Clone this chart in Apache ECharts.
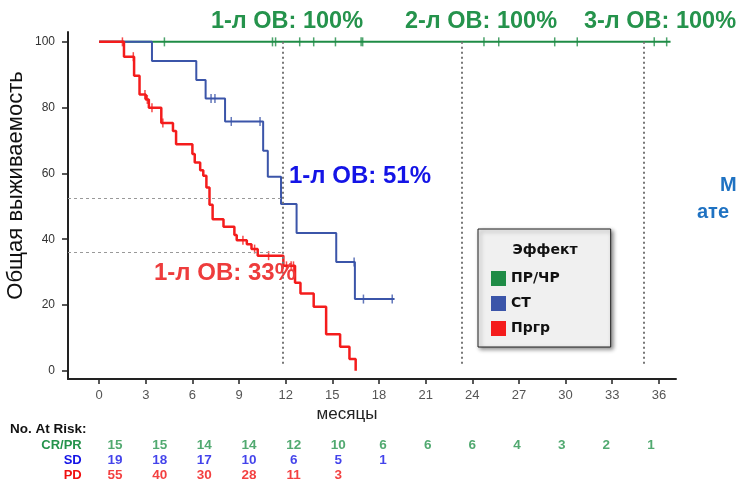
<!DOCTYPE html>
<html><head><meta charset="utf-8">
<script src="https://cdn.jsdelivr.net/npm/echarts@6/dist/echarts.min.js"></script>
<style>html,body{margin:0;padding:0;background:#fff}#c{width:741px;height:483px}</style>
</head><body><div id="c"></div>
<script>
// ---- data ----
const xTicks = [0,3,6,9,12,15,18,21,24,27,30,33,36];
const yTicks = [0,20,40,60,80,100];

const greenTimes = [0, 36.75];
const greenSurv  = [100, 100];
const greenCens  = [4.2, 11.15, 11.35, 12.9, 13.8, 15.2, 16.85, 16.95, 24.75, 25.7, 29.3, 30.75, 35.7, 36.5];

const blueTimes = [0, 3.4, 6.25, 6.85, 8.1, 10.55, 10.85, 11.7, 12.7, 15.25, 16.45, 19.0];
const blueSurv  = [100, 94.2, 88.4, 82.8, 75.8, 66.9, 59, 50.7, 41.9, 33.1, 21.8, 21.8];
const blueCens  = [7.2, 7.45, 8.5, 10.35, 16.4, 17.0, 18.85];

const redTimes = [0, 1.6, 2.25, 2.6, 3.0, 3.2, 4.0, 4.75, 4.95, 6.0, 6.15, 6.5, 6.7, 6.9, 7.1, 7.3, 8.0, 8.7, 8.85, 9.5, 9.8, 10.2, 11.85, 12.6, 12.95, 13.8, 14.6, 15.5, 16.1, 16.5];
const redSurv  = [100, 95.5, 89.7, 84, 82.5, 80, 75.3, 72.9, 68.9, 65.9, 63.3, 61, 59.3, 55.7, 50.5, 46.1, 43.8, 41.3, 39.7, 38.5, 37, 35, 31.9, 26.8, 23.5, 19.5, 11.1, 7.3, 3.6, 0];
const redCens  = [1.5, 2.2, 2.95, 3.1, 3.4, 4.1, 9.25, 10.0, 10.9, 12.05, 12.35, 12.5];

const refMonths = [11.8, 23.3, 35.0];
const refLevels = [52.6, 35.9];

const riskCols = ['0','3','6','9','12','15','18','21','24','27','30','33','36'];
const riskRows = ['CR/PR','SD','PD'];
const riskCRPR = [15,15,14,14,12,10,6,6,6,4,3,2,1];
const riskSD   = [19,18,17,10,6,5,1];
const riskPD   = [55,40,30,28,11,3];

const names = ['ПР/ЧР','СТ','Пргр'];
// ---- styles ----
const GREEN='#1f8c46', BLUE='#3b55a9', RED='#f41c1c';
const GREEN_T='#25934c', BLUE_T='#1414e6', RED_T='#ee3c3c';
const SD_T='#1414e6', PD_T='#f01010';

function pairs(t,s){return t.map((v,i)=>[v,s[i]]);}
function survAt(t,s,x){let v=s[0];for(let i=0;i<t.length;i++){if(t[i]<=x)v=s[i];}return v;}
function cens(t,s,c){return c.map(x=>[x,survAt(t,s,x)]);}
function riskData(arr,row){return arr.map((v,i)=>[riskCols[i],row,v]);}

const chart = echarts.init(document.getElementById('c'));
const FONT = 'Liberation Sans, Arial, sans-serif';
const NARROW = 'Liberation Sans Narrow, Arial Narrow, '+FONT;

chart.setOption({
  backgroundColor:'#fff',
  animation:false,
  grid:[
    {left:68,right:65,top:32,bottom:104,outerBoundsMode:'none',containLabel:false},
    {left:92.7,right:67.7,top:438,bottom:0,outerBoundsMode:'none',containLabel:false}
  ],
  xAxis:[
    {type:'value',gridIndex:0,min:-2,max:37.1,
     axisLine:{onZero:false,lineStyle:{color:'#222',width:2}},
     axisTick:{show:true,customValues:xTicks,length:5,lineStyle:{color:'#222',width:1.5}},
     axisLabel:{customValues:xTicks,color:'#555',fontSize:13,margin:10,fontFamily:FONT},
     splitLine:{show:false},
     name:'месяцы',nameLocation:'middle',nameGap:27,nameMoveOverlap:false,
     nameTextStyle:{fontSize:17,color:'#222',fontFamily:FONT,padding:[0,50,0,0]}},
    {type:'category',gridIndex:1,data:riskCols,show:false}
  ],
  yAxis:[
    {type:'value',gridIndex:0,min:-2.5,max:103,
     axisLine:{show:true,onZero:false,lineStyle:{color:'#222',width:2}},
     axisTick:{show:true,customValues:yTicks,length:6,lineStyle:{color:'#222',width:1.5}},
     axisLabel:{customValues:yTicks,color:'#333',fontSize:12,margin:13,fontFamily:FONT},
     splitLine:{show:false},
     name:'Общая выживаемость',nameLocation:'middle',nameGap:41,nameRotate:90,nameMoveOverlap:false,
     nameTextStyle:{fontSize:22,color:'#111',fontFamily:FONT,padding:[0,0,0,40]}},
    {type:'category',gridIndex:1,data:riskRows,inverse:true,
     axisLine:{show:false},axisTick:{show:false},
     axisLabel:{interval:0,margin:11,fontWeight:'bold',fontSize:13,fontFamily:NARROW,
       formatter:v=>'{'+(v==='CR/PR'?'g':v==='SD'?'b':'r')+'|'+v+'}',
       rich:{g:{color:GREEN_T,fontWeight:'bold',fontSize:13,fontFamily:NARROW},
             b:{color:SD_T,fontWeight:'bold',fontSize:13,fontFamily:NARROW},
             r:{color:PD_T,fontWeight:'bold',fontSize:13,fontFamily:NARROW}}}}
  ],
  legend:{
    left:478,top:229,orient:'vertical',selectedMode:false,
    itemWidth:15,itemHeight:15,itemGap:10,
    padding:[42,51,11,13],
    backgroundColor:'#f0f0f0',borderColor:'#222',borderWidth:1,
    shadowColor:'rgba(0,0,0,0.45)',shadowBlur:4,shadowOffsetX:2,shadowOffsetY:2,
    textStyle:{fontWeight:'bold',fontSize:14,color:'#111',fontFamily:'DejaVu Sans, sans-serif'},
    data:[
      {name:names[0],icon:'rect',itemStyle:{color:GREEN}},
      {name:names[1],icon:'rect',itemStyle:{color:BLUE}},
      {name:names[2],icon:'rect',itemStyle:{color:RED}}
    ]
  },
  graphic:[
    {type:'text',x:545,y:250,z:100,style:{text:'Эффект',align:'center',verticalAlign:'middle',font:'bold 14px DejaVu Sans, sans-serif',fill:'#111'}},
    {type:'text',x:287,y:22,z:100,style:{text:'1-л ОВ: 100%',align:'center',verticalAlign:'middle',font:'bold 23.5px '+FONT,fill:GREEN_T}},
    {type:'text',x:481,y:22,z:100,style:{text:'2-л ОВ: 100%',align:'center',verticalAlign:'middle',font:'bold 23.5px '+FONT,fill:GREEN_T}},
    {type:'text',x:660,y:22,z:100,style:{text:'3-л ОВ: 100%',align:'center',verticalAlign:'middle',font:'bold 23.5px '+FONT,fill:GREEN_T}},
    {type:'text',x:360,y:176,z:100,style:{text:'1-л ОВ: 51%',align:'center',verticalAlign:'middle',font:'bold 24px '+FONT,fill:BLUE_T}},
    {type:'text',x:225,y:273,z:100,style:{text:'1-л ОВ: 33%',align:'center',verticalAlign:'middle',font:'bold 24px '+FONT,fill:RED_T}},
    {type:'text',x:720,y:185,z:100,style:{text:'М',align:'left',verticalAlign:'middle',font:'bold 20px '+FONT,fill:'#1f72c2'}},
    {type:'text',x:697,y:212,z:100,style:{text:'ате',align:'left',verticalAlign:'middle',font:'bold 20px '+FONT,fill:'#1f72c2'}},
    {type:'text',x:10,y:429,z:100,style:{text:'No. At Risk:',align:'left',verticalAlign:'middle',font:'bold 13.5px '+NARROW,fill:'#111'}}
  ],
  series:[
    {type:'line',name:names[0],xAxisIndex:0,yAxisIndex:0,step:'end',symbol:'none',
     data:pairs(greenTimes,greenSurv),lineStyle:{color:GREEN,width:2},itemStyle:{color:GREEN},z:2,
     markLine:{silent:true,symbol:'none',label:{show:false},
       data:[
         ...refMonths.map(m=>[{coord:[m,100],lineStyle:{type:[2,3],color:'#777',width:2}},{coord:[m,1.3]}]),
         ...refLevels.map(l=>[{coord:[-2,l],lineStyle:{type:[3,3],color:'#999',width:1}},{coord:[refMonths[0],l]}])
       ]}},
    {type:'line',name:names[1],xAxisIndex:0,yAxisIndex:0,step:'end',symbol:'none',
     data:pairs(blueTimes,blueSurv),lineStyle:{color:BLUE,width:2},itemStyle:{color:BLUE},z:3},
    {type:'line',name:names[2],xAxisIndex:0,yAxisIndex:0,step:'end',symbol:'none',
     data:pairs(redTimes,redSurv),lineStyle:{color:RED,width:2.5},itemStyle:{color:RED},z:4},
    {type:'scatter',name:names[0],xAxisIndex:0,yAxisIndex:0,symbol:'rect',symbolSize:[1.5,9],
     data:cens(greenTimes,greenSurv,greenCens),itemStyle:{color:GREEN},z:2},
    {type:'scatter',name:names[1],xAxisIndex:0,yAxisIndex:0,symbol:'rect',symbolSize:[1.5,9],
     data:cens(blueTimes,blueSurv,blueCens),itemStyle:{color:BLUE},z:3},
    {type:'scatter',name:names[2],xAxisIndex:0,yAxisIndex:0,symbol:'rect',symbolSize:[1.5,9],
     data:cens(redTimes,redSurv,redCens),itemStyle:{color:RED},z:4},
    ...[[riskCRPR,'CR/PR',GREEN_T],[riskSD,'SD',SD_T],[riskPD,'PD',PD_T]].map(([arr,row,col])=>({
      type:'scatter',xAxisIndex:1,yAxisIndex:1,symbolSize:1,itemStyle:{color:'transparent'},silent:true,
      data:riskData(arr,row),
      label:{show:true,position:'inside',formatter:p=>String(p.value[2]),color:col,fontWeight:'bold',fontSize:13.5,
        fontFamily:NARROW}
    }))
  ]
});
</script></body></html>
